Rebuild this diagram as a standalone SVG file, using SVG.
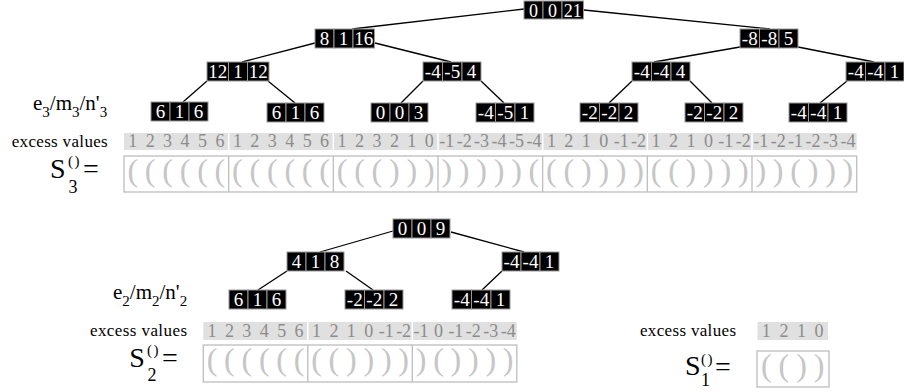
<svg xmlns="http://www.w3.org/2000/svg" width="904" height="392" viewBox="0 0 904 392" font-family="'Liberation Serif', 'Times New Roman', 'DejaVu Serif', serif">
<style>
.c rect{fill:#000;stroke:#9a9a9a;stroke-width:1}
.c text{fill:#fff;font-family:"Liberation Serif","Times New Roman","DejaVu Serif",serif;font-size:19px;text-anchor:middle}
.edges line{stroke:#000;stroke-width:1.3}
.lbl{font-family:"Liberation Serif","Times New Roman","DejaVu Serif",serif;fill:#000}
.strip{fill:#e0e0e0}
.sdiv{stroke:#fff;stroke-width:1.5}
.ex{font-family:"Liberation Serif","Times New Roman","DejaVu Serif",serif;font-size:18px;fill:#8c8c8c;text-anchor:middle}
.box{fill:#fff;stroke:#bdbdbd;stroke-width:1.3}
.bdiv{stroke:#bdbdbd;stroke-width:1.3}
.par{font-family:"Liberation Serif","Times New Roman","DejaVu Serif",serif;font-size:32px;fill:#c6c6c6;text-anchor:middle}
</style>
<rect width="904" height="392" fill="#fff"/>

<g class="edges" id="connectors">
<line x1="524" y1="9" x2="352" y2="29"/>
<line x1="584" y1="10" x2="770" y2="29"/>
<line x1="315" y1="43" x2="242" y2="62"/>
<line x1="375" y1="43" x2="451" y2="62"/>
<line x1="740" y1="47" x2="654" y2="62"/>
<line x1="798" y1="47" x2="874" y2="62"/>
<line x1="207" y1="81" x2="183" y2="102"/>
<line x1="268" y1="81" x2="295" y2="103"/>
<line x1="423" y1="81" x2="401" y2="103"/>
<line x1="481" y1="81" x2="504" y2="103"/>
<line x1="632" y1="81" x2="609" y2="103"/>
<line x1="690" y1="81" x2="712" y2="103"/>
<line x1="847" y1="81" x2="820" y2="103"/>
<line x1="393" y1="231" x2="320" y2="252"/>
<line x1="451" y1="232" x2="524" y2="252"/>
<line x1="287" y1="271" x2="258" y2="290"/>
<line x1="346" y1="271" x2="373" y2="290"/>
<line x1="502" y1="271" x2="482" y2="290"/>
</g>

<!-- top tree -->
<g class="c" id="t3-root"><rect x="524" y="1" width="19" height="18"/><rect x="543" y="1" width="19" height="18"/><rect x="562" y="1" width="21.5" height="18"/>
<text x="533.5" y="16.5" style="font-size:18px">0</text><text x="552.5" y="16.5" style="font-size:18px">0</text><text x="572.75" y="16.5" style="font-size:18px">21</text></g>
<g class="c" id="t3-a"><rect x="315" y="29" width="19" height="19"/><rect x="334" y="29" width="19" height="19"/><rect x="353" y="29" width="21.5" height="19"/>
<text x="324.5" y="45">8</text><text x="343.5" y="45">1</text><text x="363.75" y="45">16</text></g>
<g class="c" id="t3-b"><rect x="740" y="29" width="19.5" height="19"/><rect x="759.5" y="29" width="19.5" height="19"/><rect x="779" y="29" width="19" height="19"/>
<text x="749.75" y="45">-8</text><text x="769.25" y="45">-8</text><text x="788.5" y="45">5</text></g>
<g class="c" id="t3-c"><rect x="207" y="62" width="21.5" height="19"/><rect x="228.5" y="62" width="19" height="19"/><rect x="247.5" y="62" width="21.5" height="19"/>
<text x="217.75" y="78">12</text><text x="238" y="78">1</text><text x="258.25" y="78">12</text></g>
<g class="c" id="t3-d"><rect x="423" y="62" width="19.5" height="19"/><rect x="442.5" y="62" width="19.5" height="19"/><rect x="462" y="62" width="19" height="19"/>
<text x="432.75" y="78">-4</text><text x="452.25" y="78">-5</text><text x="471.5" y="78">4</text></g>
<g class="c" id="t3-e"><rect x="632" y="62" width="19.5" height="19"/><rect x="651.5" y="62" width="19.5" height="19"/><rect x="671" y="62" width="19" height="19"/>
<text x="641.75" y="78">-4</text><text x="661.25" y="78">-4</text><text x="680.5" y="78">4</text></g>
<g class="c" id="t3-f"><rect x="846" y="62" width="19.5" height="19"/><rect x="865.5" y="62" width="19.5" height="19"/><rect x="885" y="62" width="19" height="19"/>
<text x="855.75" y="78">-4</text><text x="875.25" y="78">-4</text><text x="894.5" y="78">1</text></g>
<g class="c" id="t3-g"><rect x="151" y="102" width="19" height="19"/><rect x="170" y="102" width="19" height="19"/><rect x="189" y="102" width="19" height="19"/>
<text x="160.5" y="118">6</text><text x="179.5" y="118">1</text><text x="198.5" y="118">6</text></g>
<g class="c" id="t3-h"><rect x="267" y="103" width="19" height="19"/><rect x="286" y="103" width="19" height="19"/><rect x="305" y="103" width="19" height="19"/>
<text x="276.5" y="119">6</text><text x="295.5" y="119">1</text><text x="314.5" y="119">6</text></g>
<g class="c" id="t3-i"><rect x="371" y="103" width="19" height="19"/><rect x="390" y="103" width="19" height="19"/><rect x="409" y="103" width="19" height="19"/>
<text x="380.5" y="119">0</text><text x="399.5" y="119">0</text><text x="418.5" y="119">3</text></g>
<g class="c" id="t3-j"><rect x="476" y="103" width="19.5" height="19"/><rect x="495.5" y="103" width="19.5" height="19"/><rect x="515" y="103" width="19" height="19"/>
<text x="485.75" y="119">-4</text><text x="505.25" y="119">-5</text><text x="524.5" y="119">1</text></g>
<g class="c" id="t3-k"><rect x="580" y="103" width="19.5" height="19"/><rect x="599.5" y="103" width="19.5" height="19"/><rect x="619" y="103" width="19" height="19"/>
<text x="589.75" y="119">-2</text><text x="609.25" y="119">-2</text><text x="628.5" y="119">2</text></g>
<g class="c" id="t3-l"><rect x="685" y="103" width="19.5" height="19"/><rect x="704.5" y="103" width="19.5" height="19"/><rect x="724" y="103" width="19" height="19"/>
<text x="694.75" y="119">-2</text><text x="714.25" y="119">-2</text><text x="733.5" y="119">2</text></g>
<g class="c" id="t3-m"><rect x="789" y="103" width="19.5" height="19"/><rect x="808.5" y="103" width="19.5" height="19"/><rect x="828" y="103" width="19" height="19"/>
<text x="798.75" y="119">-4</text><text x="818.25" y="119">-4</text><text x="837.5" y="119">1</text></g>

<g id="label-t3"><text class="lbl" x="33" y="110" font-size="21">e<tspan dy="7" font-size="15">3</tspan><tspan dy="-7">/m</tspan><tspan dy="7" font-size="15">3</tspan><tspan dy="-7">/n'</tspan><tspan dy="7" font-size="15">3</tspan></text></g>

<!-- S3 -->
<g id="s3">
<text class="lbl" x="11.7" y="147" font-size="17" textLength="96" lengthAdjust="spacing">excess values</text>
<rect class="strip" x="124" y="133" width="732.7" height="17"/>
<g class="sdiv"><line x1="228.67" y1="133" x2="228.67" y2="150"/><line x1="333.33" y1="133" x2="333.33" y2="150"/><line x1="438" y1="133" x2="438" y2="150"/><line x1="542.67" y1="133" x2="542.67" y2="150"/><line x1="647.33" y1="133" x2="647.33" y2="150"/><line x1="752" y1="133" x2="752" y2="150"/></g>
<text class="ex" y="147"><tspan x="132.72">1</tspan><tspan x="150.17">2</tspan><tspan x="167.61">3</tspan><tspan x="185.06">4</tspan><tspan x="202.5">5</tspan><tspan x="219.94">6</tspan><tspan x="237.39">1</tspan><tspan x="254.83">2</tspan><tspan x="272.28">3</tspan><tspan x="289.72">4</tspan><tspan x="307.17">5</tspan><tspan x="324.61">6</tspan><tspan x="342.06">1</tspan><tspan x="359.5">2</tspan><tspan x="376.94">3</tspan><tspan x="394.39">2</tspan><tspan x="411.83">1</tspan><tspan x="429.28">0</tspan><tspan x="446.72">-1</tspan><tspan x="464.17">-2</tspan><tspan x="481.61">-3</tspan><tspan x="499.06">-4</tspan><tspan x="516.5">-5</tspan><tspan x="533.94">-4</tspan><tspan x="551.39">1</tspan><tspan x="568.83">2</tspan><tspan x="586.28">1</tspan><tspan x="603.72">0</tspan><tspan x="621.17">-1</tspan><tspan x="638.61">-2</tspan><tspan x="656.06">1</tspan><tspan x="673.5">2</tspan><tspan x="690.94">1</tspan><tspan x="708.39">0</tspan><tspan x="725.83">-1</tspan><tspan x="743.28">-2</tspan><tspan x="760.72">-1</tspan><tspan x="778.17">-2</tspan><tspan x="795.61">-1</tspan><tspan x="813.06">-2</tspan><tspan x="830.5">-3</tspan><tspan x="847.94">-4</tspan></text>
<text class="lbl" x="50" y="178" font-size="28">S</text>
<text class="lbl" x="68" y="165.5" font-size="15" letter-spacing="1.5">()</text>
<text class="lbl" x="68.5" y="193" font-size="18">3</text>
<text class="lbl" x="83" y="178" font-size="28">=</text>
<rect class="box" x="124" y="156" width="732.7" height="36"/>
<g class="bdiv"><line x1="228.67" y1="156" x2="228.67" y2="192"/><line x1="333.33" y1="156" x2="333.33" y2="192"/><line x1="438" y1="156" x2="438" y2="192"/><line x1="542.67" y1="156" x2="542.67" y2="192"/><line x1="647.33" y1="156" x2="647.33" y2="192"/><line x1="752" y1="156" x2="752" y2="192"/></g>
<text class="par" y="181" x="132.72 150.17 167.61 185.06 202.5 219.94">((((((</text>
<text class="par" y="181" x="237.39 254.83 272.28 289.72 307.17 324.61">((((((</text>
<text class="par" y="181" x="342.06 359.5 376.94 394.39 411.83 429.28">((()))</text>
<text class="par" y="181" x="446.72 464.17 481.61 499.06 516.5 533.94">)))))(</text>
<text class="par" y="181" x="551.39 568.83 586.28 603.72 621.17 638.61">(())))</text>
<text class="par" y="181" x="656.06 673.5 690.94 708.39 725.83 743.28">(())))</text>
<text class="par" y="181" x="760.72 778.17 795.61 813.06 830.5 847.94">))()))</text>
</g>

<!-- bottom tree -->
<g class="c" id="t2-root"><rect x="393" y="219" width="19" height="19"/><rect x="412" y="219" width="19" height="19"/><rect x="431" y="219" width="19" height="19"/>
<text x="402.5" y="235">0</text><text x="421.5" y="235">0</text><text x="440.5" y="235">9</text></g>
<g class="c" id="t2-a"><rect x="287" y="252" width="19" height="19"/><rect x="306" y="252" width="19" height="19"/><rect x="325" y="252" width="19" height="19"/>
<text x="296.5" y="268">4</text><text x="315.5" y="268">1</text><text x="334.5" y="268">8</text></g>
<g class="c" id="t2-b"><rect x="502" y="252" width="19" height="19"/><rect x="521" y="252" width="19" height="19"/><rect x="540" y="252" width="19" height="19"/>
<text x="511.5" y="268">-4</text><text x="530.5" y="268">-4</text><text x="549.5" y="268">1</text></g>
<g class="c" id="t2-c"><rect x="229" y="290" width="19" height="19"/><rect x="248" y="290" width="19" height="19"/><rect x="267" y="290" width="19" height="19"/>
<text x="238.5" y="306">6</text><text x="257.5" y="306">1</text><text x="276.5" y="306">6</text></g>
<g class="c" id="t2-d"><rect x="345" y="290" width="19.5" height="19"/><rect x="364.5" y="290" width="19.5" height="19"/><rect x="384" y="290" width="19" height="19"/>
<text x="354.75" y="306">-2</text><text x="374.25" y="306">-2</text><text x="393.5" y="306">2</text></g>
<g class="c" id="t2-e"><rect x="452" y="290" width="19.5" height="19"/><rect x="471.5" y="290" width="19.5" height="19"/><rect x="491" y="290" width="19" height="19"/>
<text x="461.75" y="306">-4</text><text x="481.25" y="306">-4</text><text x="500.5" y="306">1</text></g>

<g id="label-t2"><text class="lbl" x="113" y="299" font-size="21">e<tspan dy="7" font-size="15">2</tspan><tspan dy="-7">/m</tspan><tspan dy="7" font-size="15">2</tspan><tspan dy="-7">/n'</tspan><tspan dy="7" font-size="15">2</tspan></text></g>

<!-- S2 -->
<g id="s2">
<text class="lbl" x="90" y="336" font-size="17" textLength="97" lengthAdjust="spacing">excess values</text>
<rect class="strip" x="203.3" y="322" width="313.5" height="18"/>
<g class="sdiv"><line x1="307.8" y1="322" x2="307.8" y2="340"/><line x1="412.3" y1="322" x2="412.3" y2="340"/></g>
<text class="ex" y="337"><tspan x="212.01">1</tspan><tspan x="229.43">2</tspan><tspan x="246.85">3</tspan><tspan x="264.27">4</tspan><tspan x="281.69">5</tspan><tspan x="299.11">6</tspan><tspan x="316.53">1</tspan><tspan x="333.95">2</tspan><tspan x="351.37">1</tspan><tspan x="368.79">0</tspan><tspan x="386.21">-1</tspan><tspan x="403.63">-2</tspan><tspan x="421.05">-1</tspan><tspan x="438.47">0</tspan><tspan x="455.89">-1</tspan><tspan x="473.31">-2</tspan><tspan x="490.73">-3</tspan><tspan x="508.15">-4</tspan></text>
<text class="lbl" x="129.3" y="367" font-size="28">S</text>
<text class="lbl" x="147" y="354.5" font-size="15" letter-spacing="1.5">()</text>
<text class="lbl" x="147.5" y="381" font-size="18">2</text>
<text class="lbl" x="162" y="367" font-size="28">=</text>
<rect class="box" x="203.3" y="345" width="313.5" height="37"/>
<g class="bdiv"><line x1="307.8" y1="345" x2="307.8" y2="382"/><line x1="412.3" y1="345" x2="412.3" y2="382"/></g>
<text class="par" y="370" x="212.01 229.43 246.85 264.27 281.69 299.11">((((((</text>
<text class="par" y="370" x="316.53 333.95 351.37 368.79 386.21 403.63">(())))</text>
<text class="par" y="370" x="421.05 438.47 455.89 473.31 490.73 508.15">)())))</text>
</g>

<!-- S1 -->
<g id="s1">
<text class="lbl" x="640" y="336" font-size="17" textLength="96" lengthAdjust="spacing">excess values</text>
<rect class="strip" x="757.5" y="322" width="70.5" height="18"/>
<text class="ex" y="337"><tspan x="766.3">1</tspan><tspan x="783.9">2</tspan><tspan x="801.5">1</tspan><tspan x="819.1">0</tspan></text>
<text class="lbl" x="685" y="375" font-size="28">S</text>
<text class="lbl" x="701" y="364" font-size="15" letter-spacing="1.5">()</text>
<text class="lbl" x="701" y="386" font-size="18">1</text>
<text class="lbl" x="715" y="376" font-size="28">=</text>
<rect class="box" x="757" y="351" width="72" height="36"/>
<text class="par" y="376" x="766.3 783.9 801.5 819.1">(())</text>
</g>
</svg>
